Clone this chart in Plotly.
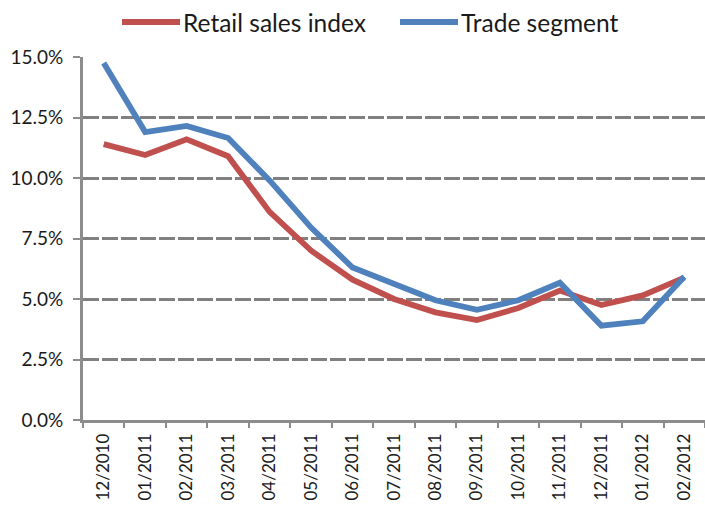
import plotly.graph_objects as go

# Monthly periods
months = ["12/2010", "01/2011", "02/2011", "03/2011", "04/2011", "05/2011",
          "06/2011", "07/2011", "08/2011", "09/2011", "10/2011", "11/2011",
          "12/2011", "01/2012", "02/2012"]

# Year-on-year growth, in percent
retail_sales_index = [11.4, 10.95, 11.6, 10.9, 8.6, 7.0, 5.8, 5.0, 4.45, 4.13,
                      4.63, 5.35, 4.75, 5.15, 5.88]
trade_segment = [14.75, 11.9, 12.15, 11.65, 9.9, 7.95, 6.3, 5.6, 4.95, 4.55,
                 4.95, 5.67, 3.9, 4.08, 5.92]

y_ticks = [0, 2.5, 5, 7.5, 10, 12.5, 15]
y_tick_text = ["0.0%", "2.5%", "5.0%", "7.5%", "10.0%", "12.5%", "15.0%"]

RED = "#C0504D"
BLUE = "#4F81BD"
GRID = "#808080"
AXIS = "#8c8c8c"
TEXT = "#1a1a1a"
FONT = "Lato"

W, H = 705, 506
ML, MR, MT, MB = 83, 0, 57, 86
PW, PH = W - ML - MR, H - MT - MB


def px_to_paper(px, py):
    """Pixel position on the page -> paper coordinates of the plot area."""
    return (px - ML) / PW, (H - MB - py) / PH


series = [("Retail sales index", retail_sales_index, RED),
          ("Trade segment", trade_segment, BLUE)]

fig = go.Figure()
for name, values, color in series:
    fig.add_trace(go.Scatter(x=months, y=values, mode="lines", name=name,
                             line=dict(color=color, width=5.8),
                             showlegend=False))

# Legend drawn above the plot: a long line swatch followed by its label
legend_items = [(122, 180), (400, 458)]
shapes, annotations = [], []
for (x0, x1), (name, _, color) in zip(legend_items, series):
    px0, py = px_to_paper(x0, 22)
    px1, _ = px_to_paper(x1, 22)
    shapes.append(dict(type="line", xref="paper", yref="paper",
                       x0=px0, x1=px1, y0=py, y1=py,
                       line=dict(color=color, width=6)))
    tx, _ = px_to_paper(x1 + 1, 22)
    annotations.append(dict(xref="paper", yref="paper", x=tx, y=py,
                            xanchor="left", yanchor="middle", showarrow=False,
                            text=name, font=dict(size=24.5, family=FONT,
                                                 color=TEXT)))

fig.update_layout(
    width=W, height=H,
    margin=dict(l=ML, r=MR, t=MT, b=MB),
    paper_bgcolor="white", plot_bgcolor="white",
    font=dict(family=FONT, color=TEXT),
    showlegend=False,
    shapes=shapes, annotations=annotations,
)

fig.update_xaxes(
    type="category", range=[-0.5, 14.5],
    tickangle=-90, tickfont=dict(size=17, color=TEXT),
    showline=True, linecolor=AXIS, linewidth=2.7,
    ticks="outside", tickson="boundaries", ticklen=5, tickwidth=2,
    tickcolor=AXIS, showgrid=False, zeroline=False,
    ticklabelstandoff=4, automargin=False,
)

fig.update_yaxes(
    range=[0, 15], tickvals=y_ticks, ticktext=y_tick_text,
    tickfont=dict(size=19, color=TEXT),
    showline=True, linecolor=AXIS, linewidth=2.7,
    ticks="outside", ticklen=7, tickwidth=2, tickcolor=AXIS,
    ticklabelstandoff=6, automargin=False,
    showgrid=True, gridcolor=GRID, gridwidth=2.7, griddash="16px,3px",
    zeroline=False,
)

fig.write_html("out.html")
